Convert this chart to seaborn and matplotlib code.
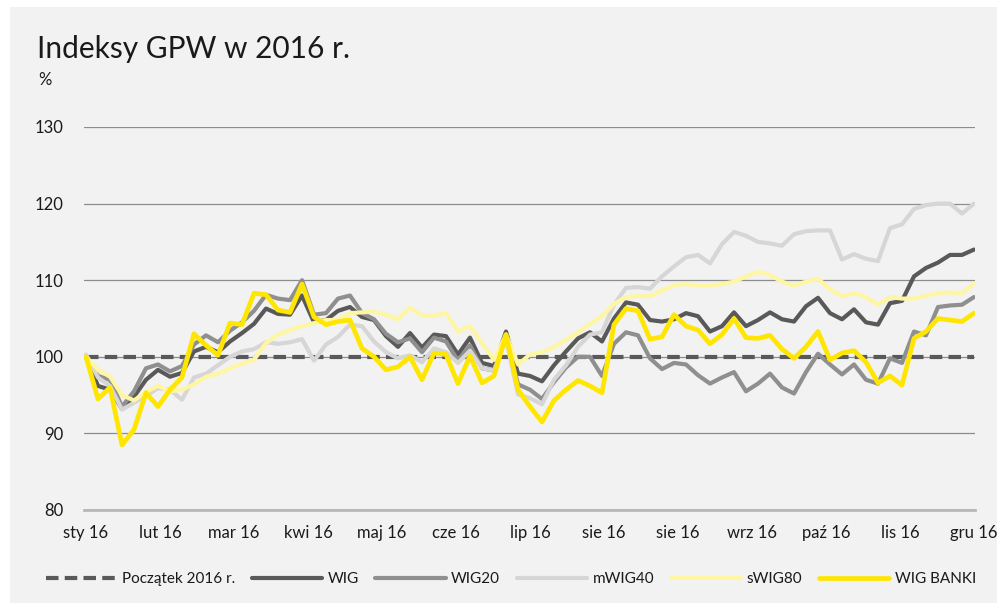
import numpy as np
import pandas as pd
import matplotlib
matplotlib.use("Agg")
import matplotlib.pyplot as plt
import seaborn as sns
from matplotlib.patches import Rectangle

# ---- data (% of 2016 start) ----
x_labels = ['sty 16', 'lut 16', 'mar 16', 'kwi 16', 'maj 16', 'cze 16', 'lip 16',
            'sie 16', 'sie 16', 'wrz 16', 'paź 16', 'lis 16', 'gru 16']

wig = [100, 96.2, 95.7, 93.2, 94.8, 97.0, 98.3, 97.4, 97.9, 100.7, 101.3, 100.6, 102.0,
       103.1, 104.3, 106.3, 105.6, 105.5, 108.0, 104.5, 104.8, 106.0, 106.5, 105.2, 104.8,
       102.7, 101.3, 103.1, 101.2, 102.9, 102.7, 100.3, 102.5, 99.2, 98.8, 103.3, 97.8,
       97.5, 96.8, 98.9, 100.7, 102.4, 103.2, 102.0, 105.0, 107.1, 106.8, 104.8, 104.6,
       104.9, 105.7, 105.3, 103.3, 104.0, 105.8, 104.0, 104.8, 105.8, 104.9, 104.6, 106.6,
       107.7, 105.7, 104.9, 106.2, 104.5, 104.2, 107.0, 107.3, 110.5, 111.6, 112.3, 113.3,
       113.3, 114.0]

wig20 = [100, 97.5, 97.0, 93.5, 95.5, 98.5, 99.0, 98.1, 98.8, 101.6, 102.8, 101.9, 103.4,
         104.5, 106.0, 108.1, 107.6, 107.4, 110.0, 105.5, 105.7, 107.6, 108.0, 105.7, 104.9,
         103.0, 101.9, 102.4, 100.6, 102.5, 102.0, 99.5, 101.5, 98.5, 98.2, 102.7, 96.4,
         95.7, 94.5, 96.7, 98.6, 100.0, 100.0, 97.5, 101.7, 103.2, 102.8, 99.8, 98.4,
         99.2, 99.0, 97.6, 96.5, 97.3, 98.0, 95.5, 96.5, 97.8, 96.0, 95.2, 98.0,
         100.4, 99.0, 97.7, 99.0, 97.0, 96.5, 99.8, 99.2, 103.3, 102.8, 106.5, 106.7,
         106.8, 107.8]

mwig40 = [100.3, 97.3, 96.2, 93.1, 94.0, 94.9, 95.9, 95.7, 94.4, 97.3, 97.8, 98.9, 100.0,
          100.7, 101.0, 101.9, 101.7, 101.9, 102.3, 99.5, 101.6, 102.6, 104.2, 104.0, 102.0,
          100.6, 99.8, 100.2, 99.3, 101.1, 100.6, 99.2, 100.8, 98.5, 98.2, 102.3, 95.1,
          94.6, 93.8, 97.0, 98.9, 101.3, 102.9, 103.2, 106.8, 109.0, 109.1, 108.9, 110.5,
          111.8, 113.0, 113.3, 112.2, 114.7, 116.3, 115.8, 115.0, 114.8, 114.5, 116.0, 116.4,
          116.5, 116.5, 112.7, 113.4, 112.8, 112.5, 116.8, 117.3, 119.3, 119.8, 120.0, 120.0,
          118.7, 120.0]

swig80 = [100, 98.3, 97.4, 95.0, 94.3, 95.4, 96.2, 95.5, 95.7, 96.4, 97.4, 97.8, 98.5,
          99.1, 99.6, 101.8, 102.9, 103.5, 104.0, 104.4, 104.8, 104.8, 105.7, 105.8, 105.9,
          105.5, 104.9, 106.4, 105.4, 105.4, 105.7, 103.3, 104.0, 101.8, 99.6, 102.9, 99.0,
          100.3, 100.6, 101.3, 102.2, 103.2, 104.3, 105.3, 106.9, 107.8, 108.0, 107.9, 108.7,
          109.3, 109.5, 109.3, 109.3, 109.5, 109.8, 110.5, 111.1, 110.7, 109.8, 109.3, 109.8,
          110.2, 108.8, 107.9, 108.3, 107.8, 106.8, 107.8, 107.6, 107.6, 108.0, 108.3, 108.4,
          108.3, 109.6]

wig_banki = [100, 94.5, 96.0, 88.5, 90.5, 95.3, 93.5, 95.7, 97.3, 103.0, 101.5, 100.2, 104.4,
             104.2, 108.3, 108.1, 106.1, 105.8, 109.5, 105.2, 104.2, 104.6, 104.8, 101.1, 100.0,
             98.3, 98.7, 100.0, 97.0, 100.5, 100.3, 96.5, 100.1, 96.6, 97.5, 102.9, 95.7,
             93.5, 91.5, 94.3, 95.7, 96.9, 96.2, 95.3, 104.2, 106.3, 106.0, 102.3, 102.6,
             105.5, 104.0, 103.5, 101.7, 102.9, 105.0, 102.5, 102.4, 102.8, 101.0, 99.8, 101.3,
             103.3, 99.6, 100.5, 100.8, 99.3, 96.6, 97.5, 96.3, 102.4, 103.3, 105.0, 104.8,
             104.6, 105.7]

baseline = 100
series_names = ['WIG', 'WIG20', 'mWIG40', 'sWIG80', 'WIG BANKI']
series_values = [wig, wig20, mwig40, swig80, wig_banki]
series_colors = ['#595959', '#8f8f8f', '#d6d6d6', '#fff6a3', '#ffe600']
series_widths = [3.0, 3.0, 3.0, 3.0, 3.4]

n = len(wig)
session = np.arange(n)

sns.set_theme(style="white")
plt.rcParams['font.family'] = ['Lato', 'DejaVu Sans']

W, H = 1003, 608
fig = plt.figure(figsize=(W / 100, H / 100), dpi=100, facecolor='white')
fig.patches.append(Rectangle((10 / W, 5 / H), 987 / W, 596 / H, transform=fig.transFigure,
                             facecolor='#f2f2f2', edgecolor='none', zorder=-10))

ax = fig.add_axes([84 / W, 98 / H, 891 / W, 383 / H])
ax.set_facecolor('none')

# baseline
sns.lineplot(x=session, y=np.full(n, baseline), ax=ax, color='#595959', linewidth=3.0,
             linestyle=(0, (3.0, 1.5)), label='Początek 2016 r.')
for name, vals, col, lw in zip(series_names, series_values, series_colors, series_widths):
    sns.lineplot(x=session, y=vals, ax=ax, color=col, linewidth=lw, label=name)

handles, labels = ax.get_legend_handles_labels()
if ax.get_legend() is not None:
    ax.get_legend().remove()

ax.set_xlim(-2 / 12, (n - 1) + 1 / 12)
ax.set_ylim(80, 130)
ax.set_yticks([80, 90, 100, 110, 120, 130])
ax.set_xticks(np.linspace(0, n - 1, len(x_labels)))
ax.set_xticklabels(x_labels)
ax.set_xlabel('')
ax.set_ylabel('')

ax.set_axisbelow(True)
ax.yaxis.grid(True, color='#8c8c8c', lw=0.9)
ax.xaxis.grid(False)
for sp in ['top', 'right', 'left']:
    ax.spines[sp].set_visible(False)
ax.spines['bottom'].set_color('#b8b8b8')
ax.spines['bottom'].set_linewidth(2.0)
ax.spines['bottom'].set_zorder(0.5)

ax.tick_params(axis='y', length=0, pad=15, labelsize=12, labelcolor='#1a1a1a')
ax.tick_params(axis='x', length=0, pad=11, labelsize=12, labelcolor='#1a1a1a')

fig.text(37 / W, 1 - 49 / H, 'Indeksy GPW w 2016 r.', fontsize=21.5, va='center',
         ha='left', color='#1a1a1a')
fig.text(38 / W, 1 - 80 / H, '%', fontsize=12, va='center', ha='left', color='#1a1a1a')

fig.legend(handles, labels, loc='center', bbox_to_anchor=(511 / W, 1 - 579 / H), ncol=6,
           frameon=False, fontsize=11, handlelength=4.6, handletextpad=0.35,
           columnspacing=1.1, labelcolor='#1a1a1a')

fig.savefig('out.png', dpi=100, facecolor=fig.get_facecolor())
